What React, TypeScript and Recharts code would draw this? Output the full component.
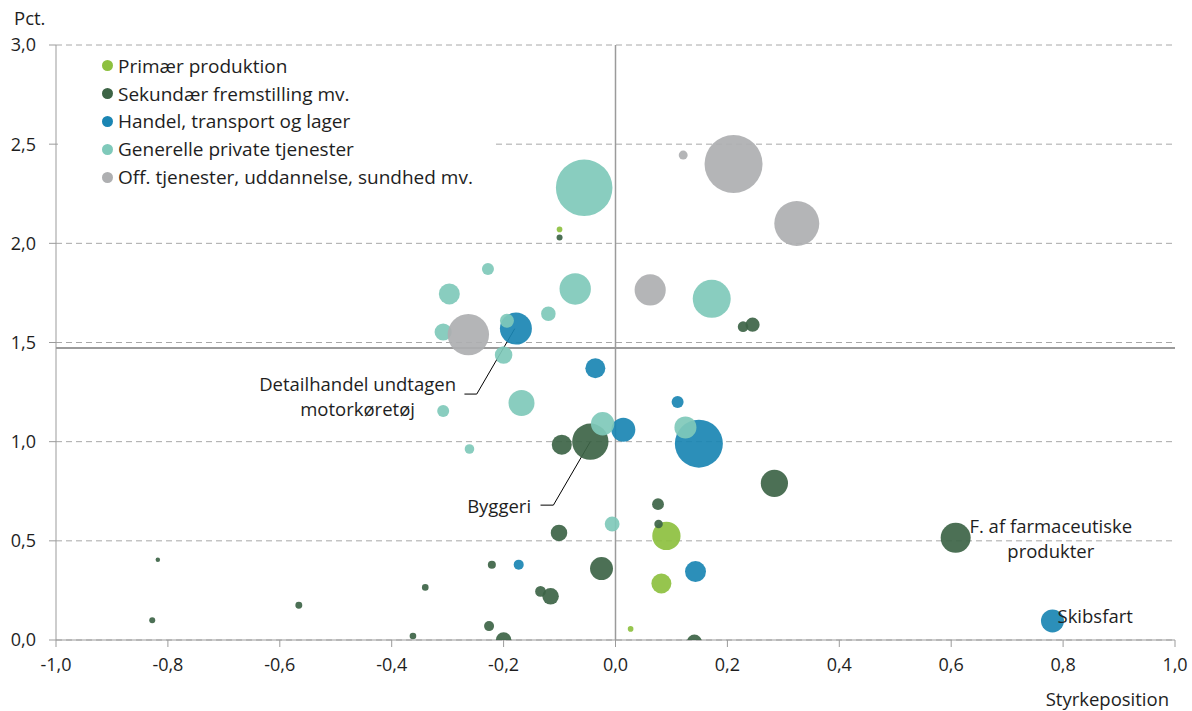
import {
  ScatterChart,
  Scatter,
  XAxis,
  YAxis,
  ZAxis,
  CartesianGrid,
  ReferenceLine,
  ReferenceDot,
} from "recharts"

// [styrkeposition, pct., størrelse]
const primaer = [
  [-0.1, 2.07, 8],
  [0.091, 0.525, 200],
  [0.082, 0.285, 100],
  [0.027, 0.056, 8],
]

const sekundaer = [
  [-0.1, 2.03, 9],
  [0.228, 1.58, 28],
  [0.245, 1.59, 50],
  [-0.045, 1.0, 330],
  [-0.096, 0.985, 100],
  [0.284, 0.79, 185],
  [0.076, 0.685, 35],
  [0.077, 0.585, 18],
  [0.608, 0.515, 225],
  [-0.101, 0.54, 68],
  [-0.025, 0.36, 132],
  [-0.221, 0.38, 16],
  [-0.34, 0.265, 11],
  [-0.134, 0.245, 29],
  [-0.116, 0.22, 68],
  [-0.566, 0.175, 12],
  [-0.828, 0.1, 9],
  [-0.818, 0.405, 5],
  [-0.226, 0.07, 25],
  [-0.2, 0.0, 60],
  [-0.362, 0.02, 11],
  [0.141, -0.01, 55],
]

const handel = [
  [-0.178, 1.57, 256],
  [-0.036, 1.37, 100],
  [0.111, 1.2, 36],
  [0.014, 1.06, 144],
  [0.149, 0.99, 576],
  [-0.173, 0.38, 25],
  [0.143, 0.345, 110],
  [0.781, 0.096, 132],
]

const generelle = [
  [-0.056, 2.28, 800],
  [-0.228, 1.87, 36],
  [-0.297, 1.745, 110],
  [-0.072, 1.77, 246],
  [0.172, 1.72, 361],
  [-0.12, 1.645, 53],
  [-0.308, 1.553, 74],
  [-0.194, 1.61, 49],
  [-0.2, 1.437, 77],
  [-0.168, 1.195, 169],
  [-0.308, 1.155, 36],
  [-0.261, 0.963, 23],
  [-0.023, 1.09, 137],
  [0.125, 1.072, 121],
  [-0.006, 0.585, 55],
]

const offentlig = [
  [0.121, 2.445, 20],
  [0.211, 2.4, 841],
  [0.324, 2.1, 506],
  [0.062, 1.765, 243],
  [-0.263, 1.54, 428],
]

const seriesNames = [
  "Primær produktion",
  "Sekundær fremstilling mv.",
  "Handel, transport og lager",
  "Generelle private tjenester",
  "Off. tjenester, uddannelse, sundhed mv.",
]
const seriesColors = ["#8DC03F", "#3D6446", "#1A85B3", "#7FC9BA", "#AEAFB1"]
const seriesData = [primaer, sekundaer, handel, generelle, offentlig]

const xTicks = [-1, -0.8, -0.6, -0.4, -0.2, 0, 0.2, 0.4, 0.6, 0.8, 1]
const yTicks = [0, 0.5, 1, 1.5, 2, 2.5, 3]
const gennemsnit = 1.472

const font = "'Open Sans', 'Noto Sans', sans-serif"
const textColor = "#1e1e1e"
const axisColor = "#9b9b9b"
const fs = 18.5

const fmt = (v: number) => v.toFixed(1).replace(".", ",")

const toPoints = (rows: number[][]) => rows.map(([x, y, z]) => ({ x, y, z }))

function LegendBox() {
  return (
    <div
      style={{
        position: "absolute",
        left: 58,
        top: 52,
        background: "#fff",
        width: 437,
        padding: "0 0 4px 0",
        fontFamily: font,
        fontSize: 19,
        color: textColor,
      }}
    >
      {seriesNames.map((name, i) => (
        <div key={name} style={{ display: "flex", alignItems: "center", height: 27.8 }}>
          <span
            style={{
              display: "inline-block",
              width: 11,
              height: 11,
              borderRadius: "50%",
              background: seriesColors[i],
              marginLeft: 44,
              marginRight: 5,
            }}
          />
          {name}
        </div>
      ))}
    </div>
  )
}

function Note(props: any) {
  const { cx, cy, lines, anchor } = props
  return (
    <text x={cx} y={cy} textAnchor={anchor} fontFamily={font} fontSize={fs} fill={textColor}>
      {lines.map((l: string, i: number) => (
        <tspan key={i} x={cx} dy={i === 0 ? "0.35em" : 25}>
          {l}
        </tspan>
      ))}
    </text>
  )
}

export default function App() {
  return (
    <div style={{ position: "relative", width: 1192, height: 711 }}>
      <style>{"body{margin:0}"}</style>
      <ScatterChart width={1192} height={711} margin={{ top: 45, right: 17, left: 0, bottom: 0 }}>
        <CartesianGrid vertical={false} stroke="#a8a8a8" strokeDasharray="6 4" />
        <XAxis
          type="number"
          dataKey="x"
          domain={[-1, 1]}
          ticks={xTicks}
          allowDataOverflow
          tickFormatter={fmt}
          height={71}
          stroke={axisColor}
          tickSize={7}
          tickMargin={11}
          tick={{ fill: textColor, fontSize: 18, fontFamily: font }}
          label={{
            content: (p: any) => (
              <text
                x={p.viewBox.x + p.viewBox.width - 6}
                y={p.viewBox.y + 66}
                textAnchor="end"
                fontFamily={font}
                fontSize={fs}
                fill={textColor}
              >
                Styrkeposition
              </text>
            ),
          }}
        />
        <YAxis
          type="number"
          dataKey="y"
          domain={[0, 3]}
          ticks={yTicks}
          allowDataOverflow
          tickFormatter={fmt}
          width={56}
          stroke={axisColor}
          tickSize={7}
          tickMargin={13}
          tick={{ fill: textColor, fontSize: 18, fontFamily: font }}
          label={{
            content: (p: any) => (
              <text x={14} y={p.viewBox.y - 20} fontFamily={font} fontSize={fs} fill={textColor}>
                Pct.
              </text>
            ),
          }}
        />
        <ZAxis type="number" dataKey="z" domain={[0, 1000]} range={[0, 1000 * Math.PI]} />
        <ReferenceLine x={0} stroke={axisColor} strokeWidth={1.5} />
        <ReferenceLine y={gennemsnit} stroke={axisColor} strokeWidth={2} />
        {seriesData.map((rows, i) => (
          <Scatter
            key={seriesNames[i]}
            name={seriesNames[i]}
            data={toPoints(rows)}
            fill={seriesColors[i]}
            fillOpacity={0.92}
            isAnimationActive={false}
          />
        ))}
        <ReferenceLine
          segment={[
            { x: -0.18, y: 1.57 },
            { x: -0.248, y: 1.24 },
          ]}
          stroke="#000"
        />
        <ReferenceLine
          segment={[
            { x: -0.248, y: 1.24 },
            { x: -0.27, y: 1.24 },
          ]}
          stroke="#000"
        />
        <ReferenceLine
          segment={[
            { x: -0.045, y: 1.0 },
            { x: -0.111, y: 0.68 },
          ]}
          stroke="#000"
        />
        <ReferenceLine
          segment={[
            { x: -0.111, y: 0.68 },
            { x: -0.134, y: 0.68 },
          ]}
          stroke="#000"
        />
        <ReferenceDot
          x={-0.461}
          y={1.29}
          r={0}
          shape={(p: any) => (
            <Note cx={p.cx} cy={p.cy} anchor="middle" lines={["Detailhandel undtagen", "motorkøretøj"]} />
          )}
        />
        <ReferenceDot
          x={-0.208}
          y={0.675}
          r={0}
          shape={(p: any) => <Note cx={p.cx} cy={p.cy} anchor="middle" lines={["Byggeri"]} />}
        />
        <ReferenceDot
          x={0.778}
          y={0.57}
          r={0}
          shape={(p: any) => (
            <Note cx={p.cx} cy={p.cy} anchor="middle" lines={["F. af farmaceutiske", "produkter"]} />
          )}
        />
        <ReferenceDot
          x={0.79}
          y={0.12}
          r={0}
          shape={(p: any) => <Note cx={p.cx} cy={p.cy} anchor="start" lines={["Skibsfart"]} />}
        />
      </ScatterChart>
      <LegendBox />
    </div>
  )
}
